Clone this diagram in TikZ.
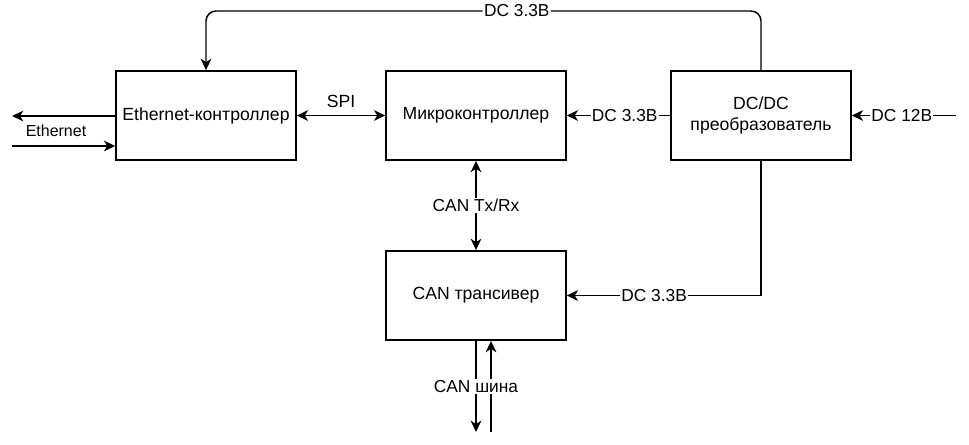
\documentclass[tikz,border=0pt]{standalone}
\usepackage{fontspec}
\setmainfont{Liberation Sans}
\usepackage{tikz}
\usetikzlibrary{arrows.meta}

\begin{document}
\begin{tikzpicture}[
    x=0.75pt, y=-0.75pt, % 1 unit = 1 px of the reference, y downwards
    font=\fontsize{13.2}{16}\selectfont,
    line width=1.1pt,
    block/.style={draw, minimum width=135pt, minimum height=67pt, align=center, inner sep=2pt},
    arr/.style={-{Stealth[length=8.5pt, width=8pt, inset=2.5pt]}},
    biarr/.style={{Stealth[length=8.5pt, width=8pt, inset=2.5pt]}-{Stealth[length=8.5pt, width=8pt, inset=2.5pt]}},
    lbl/.style={fill=white, inner sep=1pt, font=\fontsize{13}{15}\selectfont}
    ]
    % --- drawing area ---
    \useasboundingbox (0,0) rectangle (969,444);

    % 1. blocks
    \node[block] (eth)  at (206,115.5) {Ethernet-контроллер};
    \node[block] (mcu)  at (476,115.5) {Микроконтроллер};
    \node[block] (dcdc) at (761,115.5) {DC/DC\\преобразователь};
    \node[block] (can)  at (476,295.5) {CAN трансивер};

    % 2. free ends
    \coordinate (top)    at (0,11);
    \coordinate (in12)   at (956,115.5);
    \coordinate (ethout) at (12,116);
    \coordinate (ethin)  at (12,146);
    \coordinate (busout) at (476,432);
    \coordinate (busin)  at (491,432);

    % 3. power lines
    \draw[arr, rounded corners=7.5pt] (dcdc.north) -- (dcdc.north |- top)
        -- node[lbl, pos=0.44] {DC 3.3В} (eth.north |- top) -- (eth.north);
    \draw[arr] (dcdc.west) -- node[lbl, pos=0.44] {DC 3.3В} (mcu.east);
    \draw[arr] (in12) -- node[lbl, pos=0.52] {DC 12В} (dcdc.east);
    \draw[arr] (dcdc.south) |- node[lbl, pos=0.775] {DC 3.3В} (can.east);

    % 4. data lines
    \draw[biarr] (eth.east) -- node[above=2pt] {SPI} (mcu.west);
    \draw[biarr] (mcu.south) -- node[lbl] {CAN Tx/Rx} (can.north);

    % Ethernet in/out
    \draw[arr] (eth.west |- ethout) -- (ethout);
    \draw[arr] (ethin) -- (ethin -| eth.west);
    \node[font=\fontsize{12}{14}\selectfont] (ethlbl) at (56,131) {Ethernet};

    % CAN bus
    \draw[arr] (busin) -- (busin |- can.south);
    \draw[arr] (can.south) -- node[lbl, pos=0.5] {CAN шина} (busout);

\end{tikzpicture}
\end{document}
